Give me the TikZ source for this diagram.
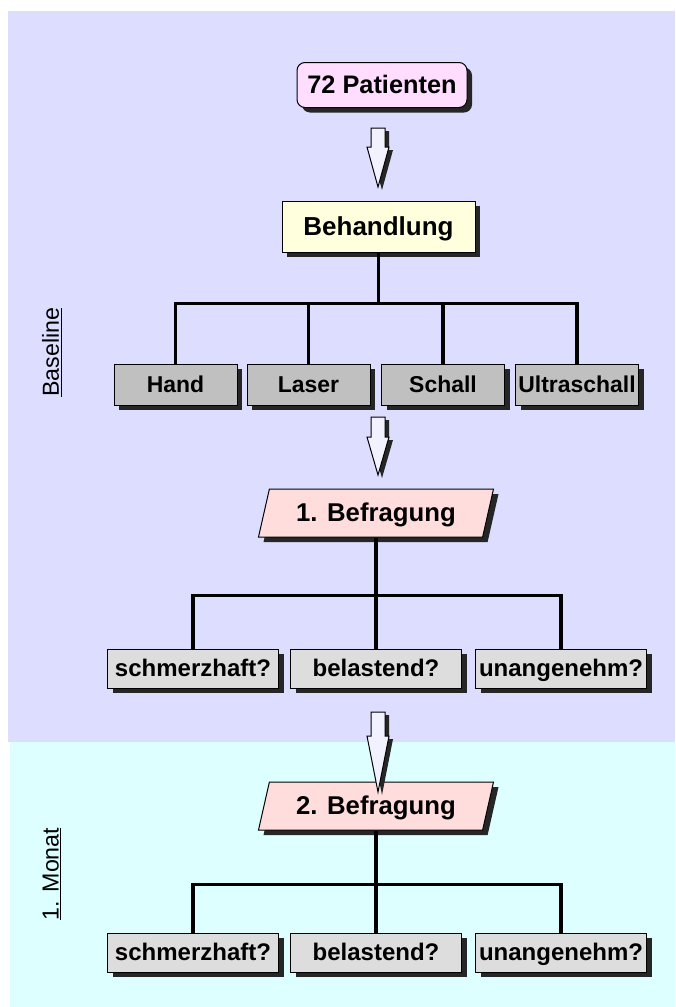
\documentclass[tikz,border=0pt]{standalone}
\usepackage{fontspec}
\setmainfont{Liberation Sans}
\usetikzlibrary{shapes.geometric, shadows}
\definecolor{bgbase}{HTML}{DDDDFF}
\definecolor{bgmonth}{HTML}{DDFFFF}
\definecolor{patpink}{HTML}{FFDDFF}
\definecolor{behyellow}{HTML}{FFFFDD}
\definecolor{treatgrey}{HTML}{C0C0C0}
\definecolor{askpink}{HTML}{FFDDDD}
\definecolor{askgrey}{HTML}{DDDDDD}
\definecolor{arrfill}{HTML}{F2F2FF}

\tikzset{
  box/.style={draw=black, line width=0.75pt, inner sep=1pt, text depth=0.5pt,
    drop shadow={shadow xshift=3.75pt, shadow yshift=-3.75pt, fill=black!85, opacity=1}},
  start/.style={box, fill=patpink, rounded corners=6pt, minimum width=127.5pt,
    minimum height=33.75pt, text height=13.6pt, font=\bfseries\fontsize{19}{21}\selectfont},
  therapy/.style={box, fill=behyellow, minimum width=144.75pt, minimum height=38.25pt,
    text height=14pt, font=\bfseries\fontsize{19.5}{21}\selectfont},
  treat/.style={box, fill=treatgrey, minimum width=92.25pt, minimum height=30.75pt,
    text height=12.3pt, font=\bfseries\fontsize{17.2}{19}\selectfont},
  survey/.style={box, fill=askpink, trapezium, trapezium left angle=63.4,
    trapezium right angle=116.6, trapezium stretches body, minimum width=176.25pt,
    minimum height=36pt, text height=13.8pt, font=\bfseries\fontsize{19.3}{21}\selectfont},
  ask/.style={box, fill=askgrey, minimum width=128.25pt, minimum height=29.25pt,
    text height=12.9pt, font=\bfseries\fontsize{18}{20}\selectfont},
  phase/.style={rotate=90, inner sep=0pt, font=\fontsize{17.4}{19}\selectfont},
  link/.style={draw=black, line width=2.5pt},
  pics/downarr/.style 2 args={code={
    \fill[black!85, shift={(4,3)}] (-7,0) -- (7,0) -- (7,#1) -- (11,#1) -- (0,#2) -- (-11,#1) -- (-7,#1) -- cycle;
    \filldraw[fill=arrfill, draw=black, line width=0.75pt] (-7,0) -- (7,0) -- (7,#1) -- (11,#1) -- (0,#2) -- (-11,#1) -- (-7,#1) -- cycle;
  }}
}

\begin{document}
\begin{tikzpicture}[x=0.75pt, y=-0.75pt]
\useasboundingbox (0,0) rectangle (675,1007);
\fill[bgbase] (8,11) rectangle (675,742);
\fill[bgmonth] (10,742) rectangle (675,1007);

\node[phase] (baselbl) at (52,352) {\underline{Baseline}};
\node[phase] (monthlbl) at (52,874) {\underline{1. Monat}};

\node[start] (pat) at (382,85) {72 Patienten};
\node[therapy] (beh) at (378.5,226.5) {Behandlung};
\foreach \nm/\lbl/\xx in {hand/Hand/175.5, laser/Laser/308.5, schall/Schall/443, ultra/Ultraschall/577}
    \node[treat] (\nm) at (\xx,384.5) {\lbl};

\node[survey] (bef1) at (376,513) {1. Befragung};
\node[survey] (bef2) at (376,806) {2. Befragung};
\foreach \row/\yy in {1/668.5, 2/952.5}
    \foreach \nm/\lbl/\xx in {a/schmerzhaft?/193, b/belastend?/376, c/unangenehm?/561}
        \node[ask] (q\row\nm) at (\xx,\yy) {\lbl};

\pic at (378,128) {downarr={19}{59}};
\pic at (378,417) {downarr={20}{58}};
\pic at (378,712) {downarr={24}{80}};

\draw[link] (hand.north) -- ++(0,-60) coordinate (bar1) -| (ultra.north);
\draw[link] (beh.south) -- (beh.south |- bar1);
\foreach \nm in {laser, schall}
    \draw[link] (\nm.north) -- (\nm.north |- bar1);

\draw[link] (q1a.north) -- ++(0,-53) coordinate (bar2) -| (q1c.north);
\draw[link] (bef1.south) -- (bef1.south |- bar2);
\draw[link] (q1b.north) -- (q1b.north |- bar2);

\draw[link] (q2a.north) -- ++(0,-48) coordinate (bar3) -| (q2c.north);
\draw[link] (bef2.south) -- (bef2.south |- bar3);
\draw[link] (q2b.north) -- (q2b.north |- bar3);
\end{tikzpicture}
\end{document}
